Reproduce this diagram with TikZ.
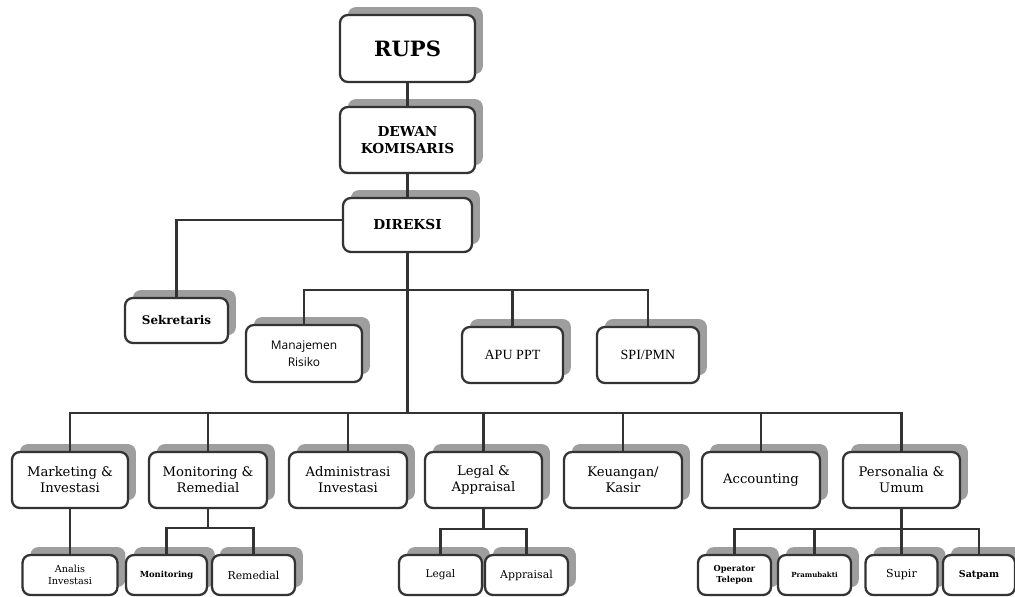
\documentclass[tikz,border=0pt]{standalone}
\usepackage{fontspec}
\setmainfont{DejaVu Serif}
\newfontfamily\opensans{Open Sans}
\newfontfamily\libserif{Liberation Serif}
\usetikzlibrary{shadows}

\begin{document}
\begin{tikzpicture}[x=0.02cm, y=-0.02cm,
  box/.style={draw=black!80, line width=1.3pt, fill=white, rounded corners=4.5pt, align=center, inner sep=0pt,
    drop shadow={shadow xshift=4.5pt, shadow yshift=4.5pt, fill=black!38, opacity=1}},
  unit/.style={box, minimum width=2.34cm, minimum height=1.12cm, font=\fontsize{7.5}{9.2}\selectfont},
  sub/.style={box, minimum height=0.8cm},
  line/.style={draw=black!80, line width=1.3pt}]

\useasboundingbox (0,0) rectangle (1015,597);

% top
\node [box, minimum width=2.7cm, minimum height=1.34cm, font=\bfseries\fontsize{12}{14}\selectfont] (rups) at (407.5,48.5) {RUPS};
\node [box, minimum width=2.7cm, minimum height=1.32cm, font=\bfseries\fontsize{7.8}{9.5}\selectfont] (dewan) at (407.5,140) {DEWAN\\KOMISARIS};
\node [box, minimum width=2.58cm, minimum height=1.08cm, font=\bfseries\fontsize{7.8}{9.5}\selectfont] (direksi) at (407.5,225) {DIREKSI};

% staff
\node [box, minimum width=2.06cm, minimum height=0.9cm, font=\bfseries\fontsize{6.8}{8}\selectfont] (sekretaris) at (176.5,320.5) {Sekretaris};
\node [box, minimum width=2.32cm, minimum height=1.14cm, font=\opensans\fontsize{6.8}{9.4}\selectfont] (risiko) at (304,353.5) {Manajemen\\Risiko};
\node [box, minimum width=2.02cm, minimum height=1.12cm, font=\libserif\fontsize{8}{9}\selectfont] (apu) at (512.5,355) {APU PPT};
\node [box, minimum width=2.04cm, minimum height=1.12cm, font=\libserif\fontsize{8}{9}\selectfont] (spi) at (648,355) {SPI/PMN};

% divisions
\node [unit, minimum width=2.32cm] (marketing) at (70,480) {Marketing \&\\Investasi};
\node [unit, minimum width=2.36cm] (monrem) at (208,480) {Monitoring \&\\Remedial};
\node [unit, minimum width=2.36cm] (admin) at (348,480) {Administrasi\\Investasi};
\node [unit] (legalapp) at (483.5,480) {Legal \&\\Appraisal};
\node [unit, minimum width=2.36cm] (keuangan) at (623,480) {Keuangan/\\Kasir};
\node [unit, minimum width=2.36cm] (accounting) at (761,480) {Accounting};
\node [unit] (personalia) at (901.5,480) {Personalia \&\\Umum};

% sections
\node [sub, minimum width=1.9cm, font=\fontsize{5.5}{7}\selectfont] (analis) at (70,575) {Analis\\Investasi};
\node [sub, minimum width=1.62cm, font=\bfseries\fontsize{4.8}{6}\selectfont] (monitoring) at (166.5,575) {Monitoring};
\node [sub, minimum width=1.66cm, font=\fontsize{6.2}{7}\selectfont] (remedial) at (253.5,575) {Remedial};
\node [sub, minimum width=1.66cm, font=\fontsize{6}{7}\selectfont] (legal) at (440.5,575) {Legal};
\node [sub, minimum width=1.66cm, font=\fontsize{6.2}{7}\selectfont] (appraisal) at (526.5,575) {Appraisal};
\node [sub, minimum width=1.46cm, font=\bfseries\fontsize{4.7}{6.5}\selectfont] (operator) at (734.5,575) {Operator\\Telepon};
\node [sub, minimum width=1.46cm, font=\bfseries\fontsize{4}{5}\selectfont] (pramubakti) at (814.5,575) {Pramubakti};
\node [sub, minimum width=1.44cm, font=\fontsize{6.3}{7}\selectfont] (supir) at (901.5,575) {Supir};
\node [sub, minimum width=1.44cm, font=\bfseries\fontsize{5.4}{6.5}\selectfont] (satpam) at (979,575) {Satpam};

% connectors
\coordinate (upper) at (407.5,290);
\coordinate (hub) at (407.5,413);
\draw [line] (rups.south) -- (dewan.north);
\draw [line] (dewan.south) -- (direksi.north);
\draw [line] ([yshift=3pt]direksi.west) -| (sekretaris.north);
\draw [line] (direksi.south) -- (hub);
\draw [line] (risiko.north) |- (upper) -| (spi.north);
\draw [line] (apu.north) -- (apu.north |- upper);
\draw [line] (marketing.north) |- (hub) -| (personalia.north);
\foreach \n in {monrem,admin,legalapp,keuangan,accounting}
  \draw [line] (\n.north) -- (\n.north |- hub);

\draw [line] (marketing.south) -- (analis.north);
\draw [line] (monrem.south) -- ++(0,19) coordinate (mrbus);
\draw [line] (monitoring.north) |- (mrbus) -| (remedial.north);
\draw [line] (legalapp.south) -- ++(0,20) coordinate (labus);
\draw [line] (legal.north) |- (labus) -| (appraisal.north);
\draw [line] (personalia.south) -- (supir.north);
\path (personalia.south) ++(0,20) coordinate (pubus);
\draw [line] (operator.north) |- (pubus) -| (satpam.north);
\draw [line] (pramubakti.north) -- (pramubakti.north |- pubus);

\end{tikzpicture}
\end{document}
